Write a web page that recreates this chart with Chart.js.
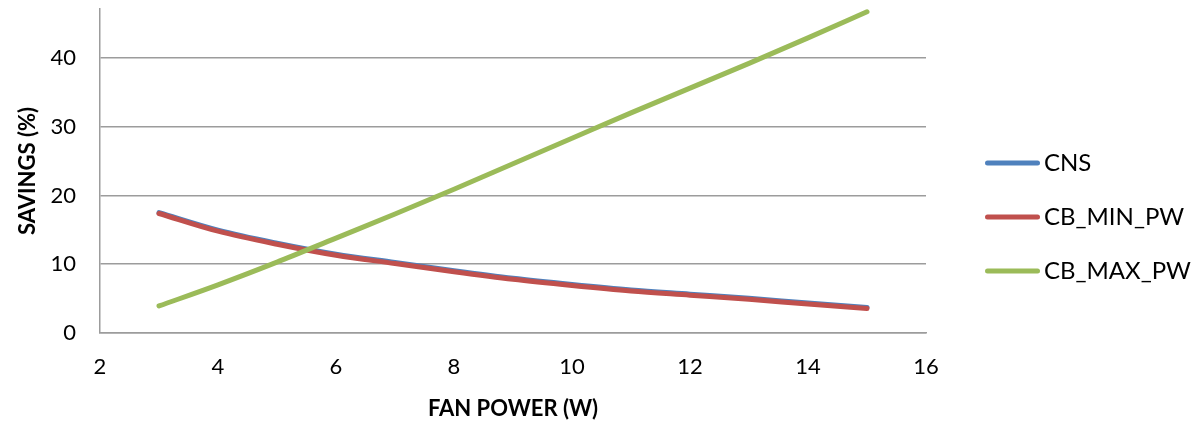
<!DOCTYPE html>
<html>
<head>
<meta charset="utf-8">
<script src="https://cdn.jsdelivr.net/npm/chart.js@4/dist/chart.umd.min.js"></script>
<style>
  html, body { margin: 0; padding: 0; background: #fff; }
  #wrap { width: 1198px; height: 425px; }
</style>
</head>
<body>
<div id="wrap"><canvas id="c" width="1198" height="425"></canvas></div>
<script>
// ---- data ----
const fanPower = [3, 4, 5, 6, 7, 8, 9, 10, 11, 12, 13, 14, 15];
const cns      = [17.5, 14.95, 13.05, 11.45, 10.25, 9.05, 7.95, 7.05, 6.25, 5.65, 5.05, 4.35, 3.7];
const cbMinPw  = [17.37, 14.8, 12.9, 11.3, 10.1, 8.9, 7.8, 6.9, 6.1, 5.5, 4.9, 4.2, 3.55];
const cbMaxPw  = [3.93, 7.0, 10.3, 13.8, 17.3, 20.9, 24.6, 28.3, 32.0, 35.6, 39.2, 42.9, 46.7];
const seriesNames = ['CNS', 'CB_MIN_PW', 'CB_MAX_PW'];
const xTicks = [2, 4, 6, 8, 10, 12, 14, 16];
const yTicks = [0, 10, 20, 30, 40];
const xTitle = 'FAN POWER (W)';
const yTitle = 'SAVINGS (%)';

const colors = ['#4F81BD', '#C0504D', '#9BBB59'];
const FONT = 'Lato';
const LEGEND_SIZE = 24;
const LEGEND_PAD = 30;
const BOX_W = 76;

function toPoints(ys) { return fanPower.map((x, i) => ({ x: x, y: ys[i] })); }

// legend line icons (line sits in the right part of the icon)
function lineIcon(color) {
  const c = document.createElement('canvas');
  c.width = 92; c.height = 8;
  const g = c.getContext('2d');
  g.strokeStyle = color; g.lineWidth = 5; g.lineCap = 'round';
  g.beginPath(); g.moveTo(39.5, 4); g.lineTo(89.5, 4); g.stroke();
  return c;
}

// compute right padding so the legend occupies 272px
const mctx = document.createElement('canvas').getContext('2d');
mctx.font = LEGEND_SIZE + 'px ' + FONT;
const maxTextW = Math.max(...seriesNames.map(s => mctx.measureText(s).width));
const legendW = 272;
const natural = LEGEND_PAD + BOX_W + LEGEND_SIZE / 2 + maxTextW + 10;
const padRight = Math.max(0, legendW - natural);

const allSeries = [cns, cbMinPw, cbMaxPw];
const datasets = allSeries.map((s, i) => ({
  label: seriesNames[i],
  data: toPoints(s),
  borderColor: colors[i],
  backgroundColor: colors[i],
  borderWidth: 5,
  borderCapStyle: 'round',
  borderJoinStyle: 'round',
  pointRadius: 0,
  pointHoverRadius: 0,
  pointStyle: lineIcon(colors[i]),
  tension: 0.4,
  cubicInterpolationMode: 'monotone',
  fill: false,
  order: 3 - i
}));

new Chart(document.getElementById('c'), {
  type: 'line',
  data: { datasets: datasets },
  options: {
    responsive: false,
    animation: false,
    devicePixelRatio: 1,
    layout: { padding: { top: 9, left: 0, bottom: 0, right: padRight } },
    plugins: {
      tooltip: { enabled: false },
      legend: {
        position: 'right',
        align: 'center',
        maxWidth: legendW,
        labels: {
          usePointStyle: true,
          pointStyleWidth: BOX_W,
          padding: LEGEND_PAD,
          color: '#000',
          font: { family: FONT, size: LEGEND_SIZE },
          sort: (a, b) => a.datasetIndex - b.datasetIndex
        }
      }
    },
    scales: {
      x: {
        type: 'linear',
        min: xTicks[0],
        max: xTicks[xTicks.length - 1],
        afterBuildTicks: s => { s.ticks = xTicks.map(v => ({ value: v })); },
        afterFit: s => { s.height = 92; s.paddingLeft = 0; s.paddingRight = 0; },
        grid: { display: false, drawTicks: false },
        border: { display: true, color: '#9C9C9C', width: 1.5 },
        ticks: { color: '#000', font: { family: FONT, size: 22 }, padding: 21, maxRotation: 0 },
        title: { display: true, text: xTitle, color: '#000', font: { family: FONT, size: 22, weight: 'bold' }, padding: { top: 0, bottom: 3 } }
      },
      y: {
        type: 'linear',
        min: 0,
        max: 47.1,
        afterBuildTicks: s => { s.ticks = yTicks.map(v => ({ value: v })); },
        afterFit: s => { s.width = 100; s.paddingTop = 0; s.paddingBottom = 0; },
        grid: { color: '#9C9C9C', lineWidth: 1.5, drawTicks: false },
        border: { display: true, color: '#9C9C9C', width: 1.5 },
        ticks: { color: '#000', font: { family: FONT, size: 22 }, padding: 24 },
        title: { display: true, text: yTitle, color: '#000', font: { family: FONT, size: 22, weight: 'bold' }, padding: { top: 15, bottom: 0 } }
      }
    }
  }
});
</script>
</body>
</html>
